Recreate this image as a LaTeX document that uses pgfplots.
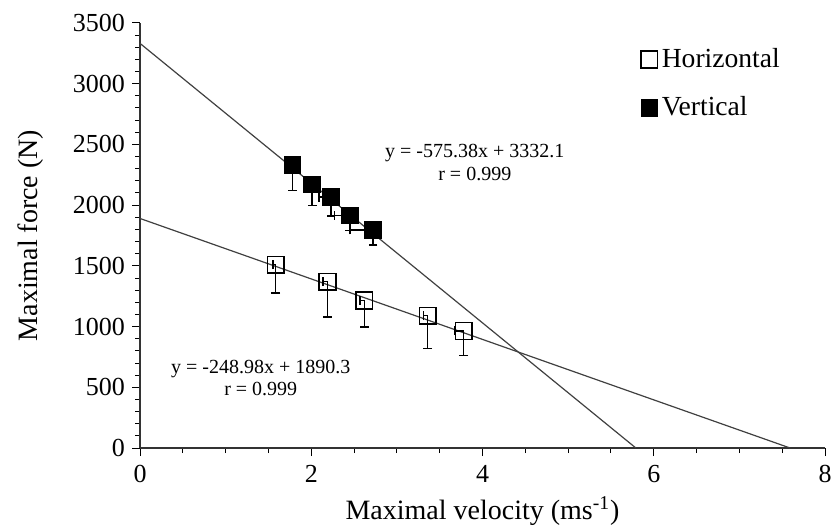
\documentclass[border=0pt]{standalone}
\usepackage{fontspec}
\setmainfont{Liberation Serif}
\usepackage{pgfplots}
\pgfplotsset{compat=1.18}
\definecolor{fitgray}{HTML}{404040}
\begin{document}
\begin{tikzpicture}
\begin{axis}[
    width=342.5pt, height=212.5pt, scale only axis,
    xmin=0, xmax=8, ymin=0, ymax=3500,
    axis x line*=bottom, axis y line*=left,
    xtick={0,2,4,6,8}, xticklabels={0,2,4,6,8},
    ytick={0,500,1000,1500,2000,2500,3000,3500},
    yticklabels={0,500,1000,1500,2000,2500,3000,3500},
    minor x tick num=3, minor y tick num=4,
    tick align=outside,
    major tick length=4pt, minor tick length=2.5pt,
    every tick/.style={black, line width=0.5pt},
    axis line style={black!80, line width=0.6pt},
    ticklabel style={font=\fontsize{13}{15}\selectfont},
    xticklabel style={yshift=-1pt},
    xlabel={Maximal velocity (ms\textsuperscript{-1})},
    ylabel={Maximal force (N)},
    label style={font=\fontsize{14}{16}\selectfont},
    ylabel style={yshift=8pt},
    legend style={draw=none, fill=none, at={(0.722,0.96)}, anchor=north west,
        font=\fontsize{13.8}{16}\selectfont, row sep=9pt},
    legend cell align=left,
    clip=false,
]
    \coordinate (sw) at (rel axis cs:0,0);
    \coordinate (ne) at (rel axis cs:1,1);

    % fitted lines
    \addplot[fitgray, line width=0.6pt, forget plot] coordinates {(0,3332.1) (5.791,0)};
    \addplot[fitgray, line width=0.6pt, forget plot] coordinates {(0,1890.3) (7.592,0)};

    % Horizontal
    \addplot[only marks, mark=square, mark size=4.2pt,
        mark options={draw=black, line width=0.7pt},
        error bars/.cd, y dir=minus, y explicit, x dir=minus, x explicit,
        error bar style={black, line width=0.75pt},
        error mark options={rotate=90, black, line width=0.75pt, mark size=2.2pt}]
        coordinates {
        (1.585,1510) -= (0.03,235)
        (2.19,1370) -= (0.05,290)
        (2.62,1215) -= (0.05,220)
        (3.36,1090) -= (0.05,270)
        (3.78,965) -= (0.11,205)
    };
    \addlegendentry{Horizontal}

    % Vertical
    \addplot[only marks, mark=square*, mark size=4.2pt,
        mark options={draw=black, fill=black},
        error bars/.cd, y dir=minus, y explicit, x dir=minus, x explicit,
        error bar style={black, line width=0.75pt},
        error mark options={rotate=90, black, line width=0.75pt, mark size=2.2pt}]
        coordinates {
        (1.78,2330) -= (0.08,210)
        (2.01,2170) -= (0.05,175)
        (2.23,2065) -= (0.14,155)
        (2.45,1915) -= (0.18,125)
        (2.72,1795) -= (0.27,125)
    };
    \addlegendentry{Vertical}

    \node[align=center, font=\fontsize{10}{11.2}\selectfont] at (axis cs:3.91,2350)
        {y = -575.38x + 3332.1\\r = 0.999};
    \node[align=center, font=\fontsize{10}{11.2}\selectfont] at (axis cs:1.41,575)
        {y = -248.98x + 1890.3\\r = 0.999};
\end{axis}
\pgfresetboundingbox
\path ([shift={(-70pt,-40pt)}]sw) rectangle ([shift={(5pt,11.5pt)}]ne);
\end{tikzpicture}
\end{document}
